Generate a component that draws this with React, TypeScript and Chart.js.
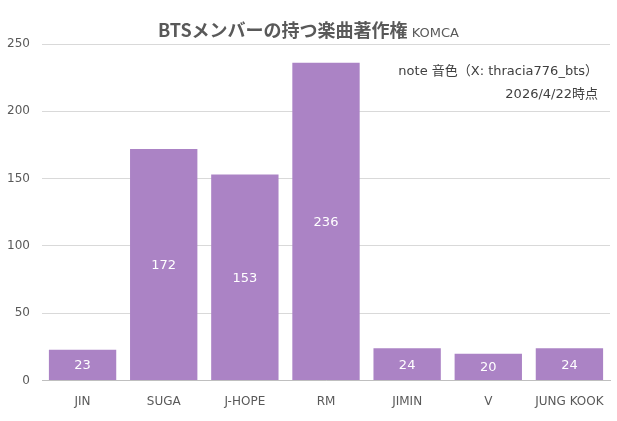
import React, { useEffect, useRef } from 'react';
import { Chart, registerables, Plugin } from 'chart.js';

Chart.register(...registerables);

const members = ['JIN', 'SUGA', 'J-HOPE', 'RM', 'JIMIN', 'V', 'JUNG KOOK'];
const songCounts = [23, 172, 153, 236, 24, 20, 24];
const yTicks = [0, 50, 100, 150, 200, 250];

const FONT = '"Noto Sans CJK JP", "Noto Sans", sans-serif';
const LATIN = '"DejaVu Sans", "Noto Sans CJK JP", sans-serif';
const BAR_COLOR = '#ab83c5';

// title in two weights + note at the top right, and white value labels
const decorations: Plugin<'bar'> = {
    id: 'decorations',
    afterDraw(chart) {
        const { ctx } = chart;
        ctx.save();

        // title
        const main = 'BTSメンバーの持つ楽曲著作権';
        const sub = ' KOMCA';
        ctx.textBaseline = 'alphabetic';
        ctx.font = `bold 18px ${FONT}`;
        const w1 = ctx.measureText(main).width;
        ctx.font = `13px ${LATIN}`;
        const w2 = ctx.measureText(sub).width;
        const x0 = (chart.width - w1 - w2) / 2;
        ctx.fillStyle = '#595959';
        ctx.font = `bold 18px ${FONT}`;
        ctx.fillText(main, x0, 37);
        ctx.font = `13px ${LATIN}`;
        ctx.fillText(sub, x0 + w1, 37);

        // note
        ctx.font = `13px ${LATIN}`;
        ctx.fillStyle = '#404040';
        ctx.textAlign = 'right';
        ctx.fillText('note 音色（X: thracia776_bts）', 598, 75);
        ctx.fillText('2026/4/22時点', 598, 98);

        // value labels
        ctx.font = `13px ${LATIN}`;
        ctx.fillStyle = '#ffffff';
        ctx.textAlign = 'center';
        ctx.textBaseline = 'middle';
        const meta = chart.getDatasetMeta(0);
        meta.data.forEach((bar, i) => {
            const p = bar.getProps(['x', 'y', 'base'], true) as any;
            ctx.fillText(String(songCounts[i]), p.x, (p.y + p.base) / 2 + 1);
        });
        ctx.restore();
    },
};

export default function App() {
    const chartRef = useRef<HTMLCanvasElement | null>(null);
    const chartInstance = useRef<Chart | null>(null);

    useEffect(() => {
        if (!chartRef.current) return;
        if (chartInstance.current) chartInstance.current.destroy();

        chartInstance.current = new Chart(chartRef.current, {
            type: 'bar',
            data: {
                labels: members,
                datasets: [
                    {
                        data: songCounts,
                        backgroundColor: BAR_COLOR,
                        borderWidth: 0,
                        barPercentage: 0.83,
                        categoryPercentage: 1,
                    },
                ],
            },
            options: {
                animation: false,
                responsive: true,
                maintainAspectRatio: false,
                layout: { padding: { top: 44, right: 7, bottom: 6, left: 4 } },
                plugins: {
                    legend: { display: false },
                    tooltip: { enabled: false },
                },
                scales: {
                    x: {
                        grid: { display: false },
                        border: { color: '#bfbfbf' },
                        ticks: { color: '#595959', font: { family: LATIN, size: 12 }, padding: 6 },
                    },
                    y: {
                        min: 0,
                        max: 250,
                        afterBuildTicks: (scale) => {
                            scale.ticks = yTicks.map((v) => ({ value: v }));
                        },
                        afterFit: (scale) => {
                            scale.width = 38;
                        },
                        grid: { color: '#d9d9d9', drawTicks: false },
                        border: { display: false },
                        ticks: { color: '#595959', font: { family: LATIN, size: 12 }, padding: 12 },
                    },
                },
            },
            plugins: [decorations],
        });

        return () => {
            if (chartInstance.current) {
                chartInstance.current.destroy();
                chartInstance.current = null;
            }
        };
    }, []);

    return (
        <div style={{ position: 'fixed', left: 0, top: 0, width: 617, height: 421, background: '#fff' }}>
            <canvas ref={chartRef}></canvas>
        </div>
    );
}
